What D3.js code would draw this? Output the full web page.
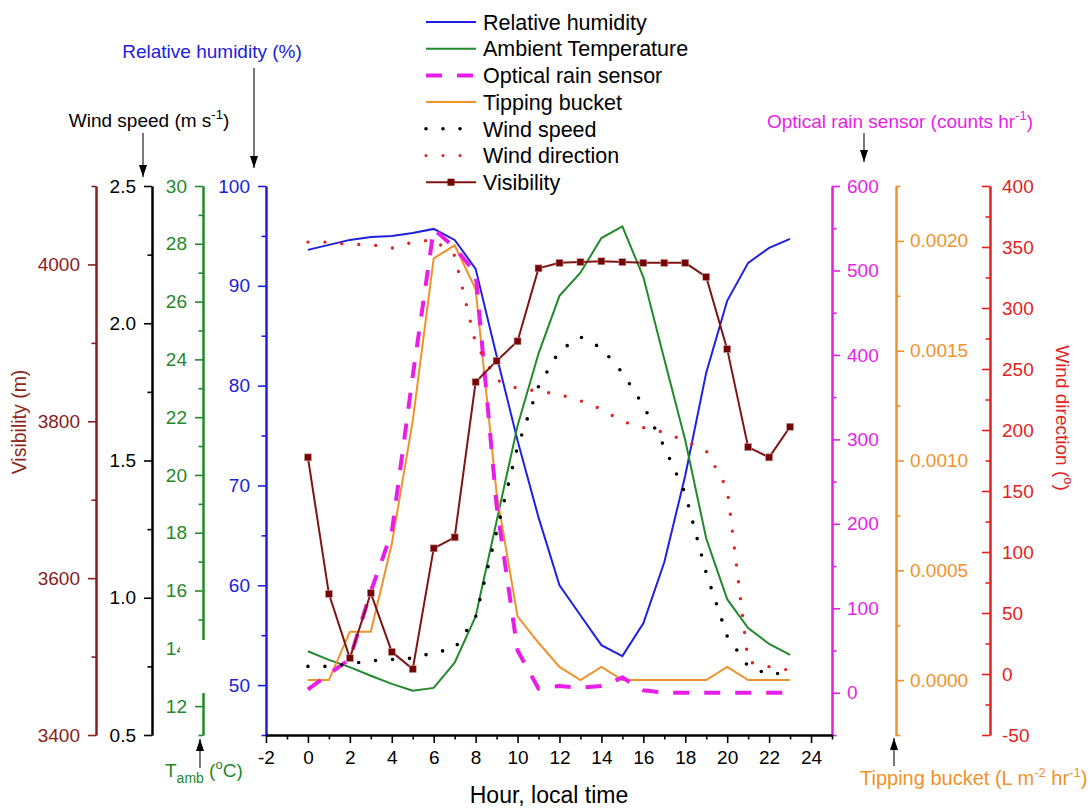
<!DOCTYPE html>
<html>
<head>
<meta charset="utf-8">
<script src="https://cdn.jsdelivr.net/npm/d3@7"></script>
<style>
  body { margin: 0; background: #fff; }
  svg { font-family: "Liberation Sans", Arial, sans-serif; }
</style>
</head>
<body>
<div id="chart-container"></div>
<script>
// hourly data
var hours = [0,1,2,3,4,5,6,7,8,9,10,11,12,13,14,15,16,17,18,19,20,21,22,23];
var humidity = [93.6,94.1,94.6,94.9,95.0,95.3,95.7,94.6,91.7,83.0,74.5,66.8,60.0,57.0,54.0,52.9,56.2,62.3,71.0,81.3,88.5,92.3,93.8,94.7];
var temperature = [13.9,13.6,13.35,13.05,12.77,12.53,12.63,13.5,15.1,18.4,21.7,24.2,26.2,27.0,28.2,28.6,26.85,24.0,21.2,17.8,15.7,14.7,14.15,13.77];
var rainSensor = [4,22,40,120,190,375,549,527,497,222,50,5,8,6,8,18,3,0,0,0,0,0,0,0];
var bucket = [0,0,0.00022,0.00022,0.00062,0.00118,0.00192,0.00198,0.00178,0.00085,0.00029,0.00017,0.00006,0,0.00006,0,0,0,0,0,0.00006,0,0,0];
var windSpeed = [0.75,0.75,0.76,0.77,0.775,0.78,0.80,0.815,0.93,1.24,1.55,1.77,1.90,1.95,1.91,1.82,1.70,1.55,1.38,1.09,0.86,0.75,0.72,0.73];
var windDir = [354,354,352,352,349,354,356,343,271,241,234,232,229,224,217,207,202,198,191,183,152,10,6,3];
var visibility = [3754,3580,3498,3581,3506,3484,3638,3652,3850,3877,3902,3995,4002,4003,4004,4003,4002,4002,4002,3984,3892,3767,3754,3793];

var legendNames = ["Relative humidity","Ambient Temperature","Optical rain sensor","Tipping bucket","Wind speed","Wind direction","Visibility"];

var width = 1092, height = 808;
var top_y = 186, bot_y = 735;

var col = {
  rh: "#2020e0", t: "#23892a", opt: "#e81ee8", tip: "#f0922b",
  ws: "#000000", wd: "#e32222", vis: "#7d1515"
};

var svg = d3.select("#chart-container")
  .append("svg")
    .attr("width", width)
    .attr("height", height)
    .style("background", "#fff");

var defs = svg.append("defs");
defs.append("marker").attr("id", "arr")
  .attr("viewBox", "0 0 12 8").attr("refX", 12).attr("refY", 4)
  .attr("markerWidth", 12).attr("markerHeight", 8)
  .attr("markerUnits", "userSpaceOnUse").attr("orient", "auto")
  .append("path").attr("d", "M0,0L12,4L0,8Z").attr("fill", "#000");

// scales
var x = d3.scaleLinear().domain([-2, 25]).range([266, 832]);
var yRH = d3.scaleLinear().domain([45, 100]).range([bot_y, top_y]);
var yT = d3.scaleLinear().domain([11, 30]).range([bot_y, top_y]);
var yWS = d3.scaleLinear().domain([0.5, 2.5]).range([bot_y, top_y]);
var yVis = d3.scaleLinear().domain([3400, 4100]).range([bot_y, top_y]);
var yOpt = d3.scaleLinear().domain([-50, 600]).range([bot_y, top_y]);
var yTip = d3.scaleLinear().domain([-0.00025, 0.00225]).range([bot_y, top_y]);
var yWD = d3.scaleLinear().domain([-50, 400]).range([bot_y, top_y]);

var plain = function(d){ return String(d); };

// vertical axis helper: ticks on one side, labels on another
function drawAxis(xpos, scale, major, minor, fmt, color, tickSide, labelSide, pad) {
  var g = svg.append("g").attr("transform", "translate(" + xpos + ",0)");
  var mk = tickSide == "left" ? d3.axisLeft : d3.axisRight;
  var lk = labelSide == "left" ? d3.axisLeft : d3.axisRight;
  g.append("g").call(mk(scale).tickValues(minor).tickSize(4.5).tickSizeOuter(0).tickFormat(""));
  g.append("g").call(mk(scale).tickValues(major).tickSize(8).tickSizeOuter(0).tickFormat(""));
  var lab = g.append("g").call(lk(scale).tickValues(major).tickSize(0).tickPadding(pad).tickFormat(fmt));
  lab.select(".domain").remove();
  g.selectAll(".domain").attr("stroke", color).attr("stroke-width", 2);
  g.selectAll(".tick line").attr("stroke", color).attr("stroke-width", 1.6);
  g.selectAll("text").attr("fill", color).style("font-size", "19px").style("font-family", "Liberation Sans, Arial, sans-serif");
  return g;
}

drawAxis(266, yRH, d3.range(50, 101, 10), d3.range(45, 100, 10), plain, col.rh, "left", "left", 16);
drawAxis(203, yT, d3.range(12, 31, 2), d3.range(11, 30, 2), plain, col.t, "left", "left", 16);
drawAxis(152, yWS, [0.5,1.0,1.5,2.0,2.5], [0.75,1.25,1.75,2.25], d3.format(".1f"), "#000", "left", "left", 16);
drawAxis(96, yVis, [3400,3600,3800,4000], [3500,3700,3900,4100], plain, "#8b2020", "left", "left", 16);
drawAxis(832, yOpt, d3.range(0, 601, 100), d3.range(-50, 600, 100), plain, col.opt, "right", "right", 15);
drawAxis(896, yTip, [0,0.0005,0.0010,0.0015,0.0020], [-0.00025,0.00025,0.00075,0.00125,0.00175,0.00225], d3.format(".4f"), col.tip, "right", "right", 14);
drawAxis(990, yWD, d3.range(-50, 401, 50), d3.range(-25, 400, 50), plain, col.wd, "left", "right", 12);

// x axis
var gx = svg.append("g").attr("transform", "translate(0," + bot_y + ")");
gx.append("g").call(d3.axisBottom(x).tickValues(d3.range(-1, 26, 2)).tickSize(4.5).tickSizeOuter(0).tickFormat(""));
gx.append("g").call(d3.axisBottom(x).tickValues(d3.range(-2, 25, 2)).tickSize(8).tickSizeOuter(0).tickPadding(8).tickFormat(plain));
gx.selectAll(".domain").attr("stroke", "#000").attr("stroke-width", 2);
gx.selectAll(".tick line").attr("stroke", "#000").attr("stroke-width", 1.6);
gx.selectAll("text").attr("fill", "#000").style("font-size", "19px").style("font-family", "Liberation Sans, Arial, sans-serif");

// white patch over the temperature axis (as in the original figure)
svg.append("rect").attr("x", 180).attr("y", 640).attr("width", 34).attr("height", 53).attr("fill", "#fff");

// series
function line(yScale, vals) {
  return d3.line().x(function(d, i){ return x(hours[i]); }).y(function(d){ return yScale(d); })(vals);
}

svg.append("path").attr("d", line(yRH, humidity)).attr("fill", "none").attr("stroke", col.rh).attr("stroke-width", 2);
svg.append("path").attr("d", line(yT, temperature)).attr("fill", "none").attr("stroke", col.t).attr("stroke-width", 2);
svg.append("path").attr("d", line(yTip, bucket)).attr("fill", "none").attr("stroke", col.tip).attr("stroke-width", 2);
svg.append("path").attr("d", line(yOpt, rainSensor)).attr("fill", "none").attr("stroke", col.opt)
  .attr("stroke-width", 4).attr("stroke-dasharray", "16,15");
svg.append("path").attr("d", line(yWS, windSpeed)).attr("fill", "none").attr("stroke", col.ws)
  .attr("stroke-width", 3.6).attr("stroke-linecap", "round").attr("stroke-dasharray", "0,17");
svg.append("path").attr("d", line(yWD, windDir)).attr("fill", "none").attr("stroke", col.wd)
  .attr("stroke-width", 3.4).attr("stroke-linecap", "round").attr("stroke-dasharray", "0,17");
svg.append("path").attr("d", line(yVis, visibility)).attr("fill", "none").attr("stroke", col.vis).attr("stroke-width", 2);
svg.append("g").selectAll("rect").data(visibility).enter().append("rect")
  .attr("x", function(d, i){ return x(hours[i]) - 3.5; })
  .attr("y", function(d){ return yVis(d) - 3.5; })
  .attr("width", 7).attr("height", 7)
  .attr("fill", "#750505").attr("stroke", "#c9a0a0").attr("stroke-width", 0.6);

// legend
var lg = svg.append("g");
var styles = [
  {c: col.rh, w: 2, dash: null},
  {c: col.t, w: 2, dash: null},
  {c: col.opt, w: 4, dash: "16,15"},
  {c: col.tip, w: 2, dash: null},
  {c: col.ws, w: 3.6, dash: "0,17", cap: "round"},
  {c: col.wd, w: 3.2, dash: "0,17", cap: "round"},
  {c: col.vis, w: 2, dash: null, marker: true}
];
legendNames.forEach(function(name, i) {
  var yy = 22 + i * 26.7;
  var s = styles[i];
  var ln = lg.append("line").attr("x1", 426).attr("x2", 476).attr("y1", yy).attr("y2", yy)
    .attr("stroke", s.c).attr("stroke-width", s.w);
  if (s.dash) ln.attr("stroke-dasharray", s.dash);
  if (s.cap) ln.attr("stroke-linecap", s.cap);
  if (s.marker) lg.append("rect").attr("x", 447.5).attr("y", yy - 3.5).attr("width", 7).attr("height", 7).attr("fill", "#750505");
  lg.append("text").attr("x", 483).attr("y", yy).attr("dy", "0.36em")
    .style("font-size", "21.5px").attr("fill", "#000").text(name);
});

// axis titles
function title(tx, ty, anchor, color, parts, rot, size) {
  var t = svg.append("text").attr("text-anchor", anchor).attr("fill", color).style("font-size", (size || 19) + "px");
  if (rot) t.attr("transform", "translate(" + tx + "," + ty + ") rotate(" + rot + ")");
  else t.attr("x", tx).attr("y", ty);
  parts.forEach(function(p) {
    var sp = t.append("tspan").text(p[0]);
    if (p[1] == "sup") sp.attr("dy", -8).style("font-size", "13px");
    if (p[1] == "sub") sp.attr("dy", 6).style("font-size", "14px");
    if (p[1] == "up") sp.attr("dy", 8);
    if (p[1] == "down") sp.attr("dy", -6);
  });
  return t;
}

title(212, 58, "middle", col.rh, [["Relative humidity (%)"]]);
title(149, 127, "middle", "#000", [["Wind speed (m s"], ["-1", "sup"], [")", "up"]]);
title(165, 777, "start", col.t, [["T"], ["amb", "sub"], [" (", "down"], ["o", "sup"], ["C)", "up"]]);
title(1033, 128, "end", col.opt, [["Optical rain sensor (counts hr"], ["-1", "sup"], [")", "up"]]);
title(860, 785, "start", col.tip, [["Tipping bucket (L m"], ["-2", "sup"], [" hr", "up"], ["-1", "sup"], [")", "up"]], 0, 20);
title(26, 422, "middle", "#8b2a1a", [["Visibility (m)"]], -90, 19.5);
title(1056, 418, "middle", col.wd, [["Wind direction ("], ["o", "sup"], [")", "up"]], 90);
svg.append("text").attr("x", 549).attr("y", 803).attr("text-anchor", "middle")
  .style("font-size", "23px").attr("fill", "#000").text("Hour, local time");

// arrows pointing at the axes
var arrows = [[254, 68, 254, 168], [143, 133, 143, 177], [200, 768, 200, 739], [864, 133, 864, 162], [894, 766, 894, 738]];
arrows.forEach(function(a) {
  svg.append("line").attr("x1", a[0]).attr("y1", a[1]).attr("x2", a[2]).attr("y2", a[3])
    .attr("stroke", "#222").attr("stroke-width", 1.2).attr("marker-end", "url(#arr)");
});
</script>
</body>
</html>
